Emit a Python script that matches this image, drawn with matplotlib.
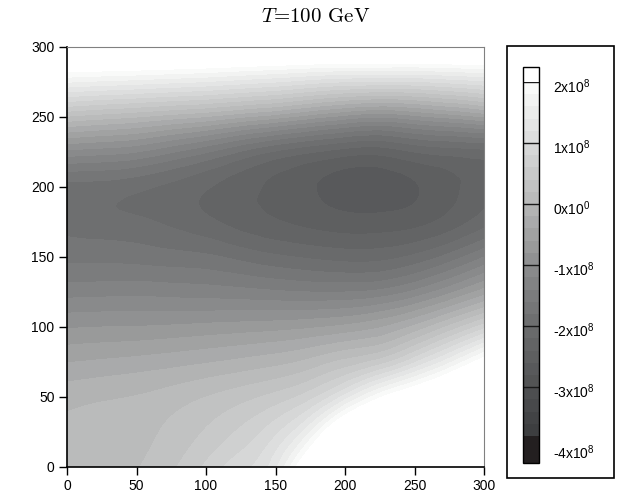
import numpy as np
import matplotlib
matplotlib.use("Agg")
import matplotlib.pyplot as plt
import matplotlib.tri as mtri
from matplotlib.colors import ListedColormap, BoundaryNorm
from matplotlib.patches import Rectangle

# ---------------- data ----------------
# grid coordinates (GeV)
x_gev = [0, 25, 50, 75, 100, 125, 150, 175, 200, 225, 250, 275, 300]
y_gev = [0, 25, 50, 75, 100, 125, 150, 175, 200, 225, 250, 275, 300]
# potential values in units of 1e8, one row per y value (y = 0 ... 300)
potential_1e8 = [
    [0.10, 0.14, 0.19, 0.36, 0.64, 0.93, 1.35, 2.50, 3.40, 4.20, 5.00, 5.50, 6.00],
    [0.05, 0.09, 0.13, 0.25, 0.42, 0.64, 0.95, 1.60, 2.60, 3.10, 3.40, 4.00, 4.60],
    [-0.08, -0.03, 0.01, 0.09, 0.20, 0.32, 0.47, 0.73, 1.29, 1.96, 2.40, 2.90, 3.40],
    [-0.41, -0.37, -0.33, -0.28, -0.22, -0.15, -0.07, 0.06, 0.26, 0.50, 0.97, 1.55, 2.20],
    [-0.82, -0.80, -0.79, -0.77, -0.74, -0.71, -0.68, -0.63, -0.55, -0.42, -0.15, 0.25, 0.72],
    [-1.28, -1.27, -1.26, -1.28, -1.30, -1.33, -1.37, -1.40, -1.40, -1.34, -1.15, -0.85, -0.50],
    [-1.65, -1.66, -1.68, -1.72, -1.76, -1.86, -1.96, -2.03, -2.08, -2.07, -1.95, -1.72, -1.40],
    [-1.91, -1.93, -1.96, -2.04, -2.15, -2.28, -2.38, -2.46, -2.52, -2.52, -2.47, -2.32, -2.09],
    [-1.88, -1.89, -1.95, -2.05, -2.18, -2.32, -2.45, -2.58, -2.69, -2.71, -2.62, -2.46, -2.28],
    [-1.06, -1.12, -1.20, -1.38, -1.58, -1.82, -2.03, -2.18, -2.30, -2.33, -2.20, -2.12, -2.07],
    [0.17, 0.08, 0.00, -0.11, -0.22, -0.38, -0.53, -0.72, -0.89, -0.99, -0.88, -0.75, -0.60],
    [1.61, 1.55, 1.50, 1.44, 1.38, 1.29, 1.20, 1.08, 0.99, 0.96, 0.97, 1.05, 1.15],
    [2.90, 2.90, 2.90, 2.90, 2.90, 2.90, 2.90, 2.90, 2.90, 2.90, 2.90, 2.90, 2.90],
]
# contour levels (units of 1e8) and colorbar labels
levels_1e8 = np.round(np.arange(-3.8, 2.0001, 0.2), 2)
cbar_major_1e8 = [2, 1, 0, -1, -2, -3, -4]
cbar_labels = ["2x10$^{8}$", "1x10$^{8}$", "0x10$^{0}$", "-1x10$^{8}$",
               "-2x10$^{8}$", "-3x10$^{8}$", "-4x10$^{8}$"]
axis_ticks = [0, 50, 100, 150, 200, 250, 300]
title_text = r"$T$=100 GeV"

# ---------------- style ----------------
plt.rcParams.update({
    "font.family": ["Liberation Sans", "DejaVu Sans"],
    "mathtext.fontset": "custom",
    "mathtext.rm": "Liberation Sans",
    "mathtext.it": "Liberation Sans:italic",
    "mathtext.bf": "Liberation Sans:bold",
})

W, H = 631, 504
def fy(py):
    return 1 - py / H

fig = plt.figure(figsize=(W / 100, H / 100), dpi=100)
ax = fig.add_axes([67 / W, fy(467), 417 / W, 420 / H])

# grey colour scale (dark -> white)
anchor_v = [-3.8, -2.7, -1.9, -1.0, 0.0, 1.0, 2.0]
anchor_g = [58, 88, 110, 140, 182, 218, 252]
mids = (levels_1e8[:-1] + levels_1e8[1:]) / 2
g = np.interp(mids, anchor_v, anchor_g)
cols = [(gi / 255, min(gi + 1, 255) / 255, min(gi + 4 * (1 - gi / 255), 255) / 255) for gi in g]
cmap = ListedColormap(cols)
cmap.set_under("#231f20")
cmap.set_over("#ffffff")
norm = BoundaryNorm(levels_1e8, len(cols))

# triangulated grid, rendered smoothly with matplotlib's refiner
X, Y = np.meshgrid(np.array(x_gev, float), np.array(y_gev, float))
Z = np.array(potential_1e8, float)
nx, ny = len(x_gev), len(y_gev)
tris = []
for j in range(ny - 1):
    for i in range(nx - 1):
        a = j * nx + i
        b = a + 1
        c = a + nx
        d = c + 1
        tris.append([a, b, d])
        tris.append([a, d, c])
tri = mtri.Triangulation(X.ravel(), Y.ravel(), np.array(tris))
refiner = mtri.UniformTriRefiner(tri)
tri_f, z_f = refiner.refine_field(Z.ravel(), subdiv=4)

cs = ax.tricontourf(tri_f, z_f, levels=levels_1e8, cmap=cmap, norm=norm,
                    extend="both", antialiased=False)

ax.set_xlim(0, 300)
ax.set_ylim(0, 300)
ax.set_xticks(axis_ticks)
ax.set_yticks(axis_ticks)
ax.tick_params(direction="out", length=6, width=1.0, labelsize=10, pad=3, color="black")
for s in ["left", "bottom"]:
    ax.spines[s].set_color("black")
    ax.spines[s].set_linewidth(1.2)
for s in ["top", "right"]:
    ax.spines[s].set_color("#808080")
    ax.spines[s].set_linewidth(0.8)

# colorbar
cax = fig.add_axes([523 / W, fy(463), 16 / W, 396 / H])
cbar = fig.colorbar(cs, cax=cax, extend="both", extendrect=True,
                    extendfrac=[27 / 354, 15 / 354], ticks=[])
cbar.minorticks_off()
cbar.outline.set_linewidth(1.0)
cbar.outline.set_edgecolor("black")
for v in cbar_major_1e8:
    if -3.8 < v <= 2.0:
        cax.axhline(v, color="#1a1a1a", lw=1.0)
cax.tick_params(which="both", length=0, labelleft=False, labelright=False)
for v, lab in zip(cbar_major_1e8, cbar_labels):
    py = 82 + (2.0 - v) * 61.0
    fig.text(553 / W, fy(py + 5), lab, ha="left", va="center", fontsize=10)

fig.patches.append(Rectangle((507 / W, fy(478)), (614 - 507) / W, (478 - 46) / H,
                             transform=fig.transFigure, fill=False,
                             edgecolor="black", lw=1.2))

fig.text(316 / W, fy(17), title_text, ha="center", va="center", fontsize=15,
         family="cmr10", math_fontfamily="cm")

fig.savefig("out.png", dpi=100)
